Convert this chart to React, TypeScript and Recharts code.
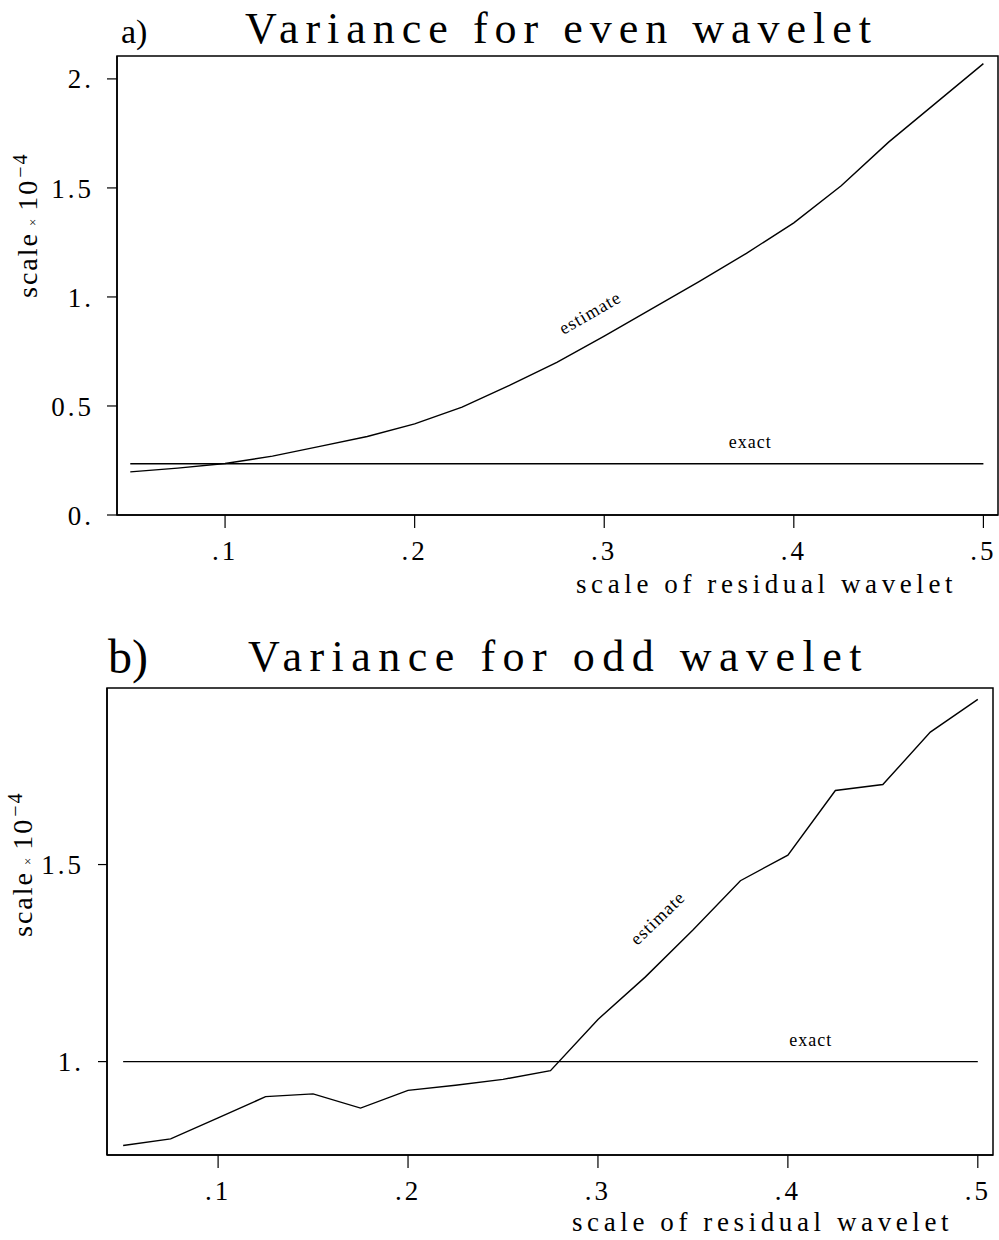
import React from 'react';
import { LineChart, Line, XAxis, YAxis, ReferenceArea, ReferenceDot } from 'recharts';

// scale of residual wavelet (x)
const scaleValues = [0.05, 0.075, 0.1, 0.125, 0.15, 0.175, 0.2, 0.225, 0.25, 0.275, 0.3, 0.325, 0.35, 0.375, 0.4, 0.425, 0.45, 0.475, 0.5];

// panel a) even wavelet (variance x 10^-4)
const evenEstimate = [0.198, 0.215, 0.236, 0.27, 0.315, 0.36, 0.418, 0.495, 0.594, 0.70, 0.82, 0.945, 1.07, 1.2, 1.34, 1.51, 1.71, 1.89, 2.07];
const evenExact = [0.235, 0.235, 0.235, 0.235, 0.235, 0.235, 0.235, 0.235, 0.235, 0.235, 0.235, 0.235, 0.235, 0.235, 0.235, 0.235, 0.235, 0.235, 0.235];

// panel b) odd wavelet (variance x 10^-4)
const oddEstimate = [0.787, 0.804, 0.857, 0.911, 0.918, 0.882, 0.927, 0.94, 0.955, 0.977, 1.107, 1.215, 1.334, 1.459, 1.524, 1.688, 1.703, 1.836, 1.919];
const oddExact = [1.0, 1.0, 1.0, 1.0, 1.0, 1.0, 1.0, 1.0, 1.0, 1.0, 1.0, 1.0, 1.0, 1.0, 1.0, 1.0, 1.0, 1.0, 1.0];

// tick labels
const xTicks = [0.1, 0.2, 0.3, 0.4, 0.5];
const xTickLabels = ['.1', '.2', '.3', '.4', '.5'];
const evenYTicks = [0, 0.5, 1, 1.5, 2];
const evenYTickLabels = ['0.', '0.5', '1.', '1.5', '2.'];
const oddYTicks = [1, 1.5];
const oddYTickLabels = ['1.', '1.5'];

// text
const titleA = 'Variance for even wavelet';
const titleB = 'Variance for odd wavelet';
const xLabel = 'scale of residual wavelet';

const evenData = scaleValues.map((x, i) => ({ x, estimate: evenEstimate[i], exact: evenExact[i] }));
const oddData = scaleValues.map((x, i) => ({ x, estimate: oddEstimate[i], exact: oddExact[i] }));

const FONT = '"Liberation Serif", "DejaVu Serif", serif';
const tickStyle = { fill: '#000', fontSize: 27, fontFamily: FONT, letterSpacing: 3 };

const fmt = (ticks: number[], labels: string[]) => (v: number) => {
  const i = ticks.indexOf(v);
  return i >= 0 ? labels[i] : String(v);
};

const rotatedLabel = (text: string, angle: number) => (props: any) => {
  const vb = props.viewBox || {};
  const cx = (vb.x ?? 0) + (vb.width ?? 0) / 2;
  const cy = (vb.y ?? 0) + (vb.height ?? 0) / 2;
  return (
    <text
      x={cx}
      y={cy}
      textAnchor="middle"
      dominantBaseline="central"
      transform={`rotate(${angle}, ${cx}, ${cy})`}
      fontSize={18}
      letterSpacing={1}
      fontFamily={FONT}
      fill="#000"
    >
      {text}
    </text>
  );
};

const axisLine = { stroke: '#000', strokeWidth: 1.5 };

export default function App() {
  const xDomA: [number, number] = [0.043, 0.5077];
  const yDomA: [number, number] = [0, 2.105];
  const xDomB: [number, number] = [0.0415, 0.508];
  const yDomB: [number, number] = [0.763, 1.948];

  return (
    <div style={{ position: 'absolute', left: 0, top: 0, width: 999, height: 1240, background: '#fff', fontFamily: FONT }}>
      <div style={{ position: 'absolute', left: 0, top: 0 }}>
        <LineChart width={999} height={620} data={evenData} margin={{ top: 56, right: 1, left: 0, bottom: 0 }}>
          <XAxis
            dataKey="x"
            type="number"
            domain={xDomA}
            allowDataOverflow
            ticks={xTicks}
            interval={0}
            tickFormatter={fmt(xTicks, xTickLabels)}
            tickSize={13}
            tickMargin={13}
            height={105}
            axisLine={axisLine}
            tickLine={{ stroke: '#000', strokeWidth: 1.2 }}
            tick={tickStyle}
          />
          <YAxis
            type="number"
            domain={yDomA}
            allowDataOverflow
            ticks={evenYTicks}
            interval={0}
            tickFormatter={fmt(evenYTicks, evenYTickLabels)}
            tickSize={10}
            tickMargin={13}
            width={117}
            axisLine={axisLine}
            tickLine={{ stroke: '#000', strokeWidth: 1.2 }}
            tick={tickStyle}
          />
          <ReferenceArea x1={xDomA[0]} x2={xDomA[1]} y1={yDomA[0]} y2={yDomA[1]} fill="none" stroke="#000" strokeWidth={1.5} />
          <Line type="linear" dataKey="exact" stroke="#000" strokeWidth={1.4} dot={false} isAnimationActive={false} />
          <Line type="linear" dataKey="estimate" stroke="#000" strokeWidth={1.4} dot={false} isAnimationActive={false} />
          <ReferenceDot x={0.2925} y={0.927} r={0} fill="none" stroke="none" label={rotatedLabel('estimate', -30)} />
          <ReferenceDot x={0.377} y={0.335} r={0} fill="none" stroke="none" label={rotatedLabel('exact', 0)} />
        </LineChart>
      </div>
      <div style={{ position: 'absolute', left: 0, top: 620 }}>
        <LineChart width={999} height={620} data={oddData} margin={{ top: 68, right: 6, left: 0, bottom: 0 }}>
          <XAxis
            dataKey="x"
            type="number"
            domain={xDomB}
            allowDataOverflow
            ticks={xTicks}
            interval={0}
            tickFormatter={fmt(xTicks, xTickLabels)}
            tickSize={13}
            tickMargin={13}
            height={85}
            axisLine={axisLine}
            tickLine={{ stroke: '#000', strokeWidth: 1.2 }}
            tick={tickStyle}
          />
          <YAxis
            type="number"
            domain={yDomB}
            allowDataOverflow
            ticks={oddYTicks}
            interval={0}
            tickFormatter={fmt(oddYTicks, oddYTickLabels)}
            tickSize={9}
            tickMargin={14}
            width={107}
            axisLine={axisLine}
            tickLine={{ stroke: '#000', strokeWidth: 1.2 }}
            tick={tickStyle}
          />
          <ReferenceArea x1={xDomB[0]} x2={xDomB[1]} y1={yDomB[0]} y2={yDomB[1]} fill="none" stroke="#000" strokeWidth={1.5} />
          <Line type="linear" dataKey="exact" stroke="#000" strokeWidth={1.4} dot={false} isAnimationActive={false} />
          <Line type="linear" dataKey="estimate" stroke="#000" strokeWidth={1.4} dot={false} isAnimationActive={false} />
          <ReferenceDot x={0.3314} y={1.364} r={0} fill="none" stroke="none" label={rotatedLabel('estimate', -44)} />
          <ReferenceDot x={0.412} y={1.055} r={0} fill="none" stroke="none" label={rotatedLabel('exact', 0)} />
        </LineChart>
      </div>
      <svg
        width={999}
        height={1240}
        style={{ position: 'absolute', left: 0, top: 0, pointerEvents: 'none' }}
        fontFamily={FONT}
        fill="#000"
      >
        <text x={121} y={43} fontSize={34}>a)</text>
        <text x={245} y={43} fontSize={44} letterSpacing={7}>{titleA}</text>
        <text x={108} y={673} fontSize={48}>b)</text>
        <text x={248} y={671} fontSize={44} letterSpacing={7.5}>{titleB}</text>

        <text x={576} y={593} fontSize={27} letterSpacing={4.6}>{xLabel}</text>
        <text x={572} y={1231} fontSize={27} letterSpacing={4.6}>{xLabel}</text>

        <text x={37} y={298} fontSize={28} letterSpacing={2} transform="rotate(-90, 37, 298)">
          scale
          <tspan fontSize={13} dx={6}>×</tspan>
          <tspan fontSize={28} dx={6}>10</tspan>
          <tspan fontSize={20} dy={-10} dx={1}>−4</tspan>
        </text>
        <text x={32} y={937} fontSize={28} letterSpacing={2} transform="rotate(-90, 32, 937)">
          scale
          <tspan fontSize={13} dx={6}>×</tspan>
          <tspan fontSize={28} dx={6}>10</tspan>
          <tspan fontSize={20} dy={-10} dx={1}>−4</tspan>
        </text>
      </svg>
    </div>
  );
}
